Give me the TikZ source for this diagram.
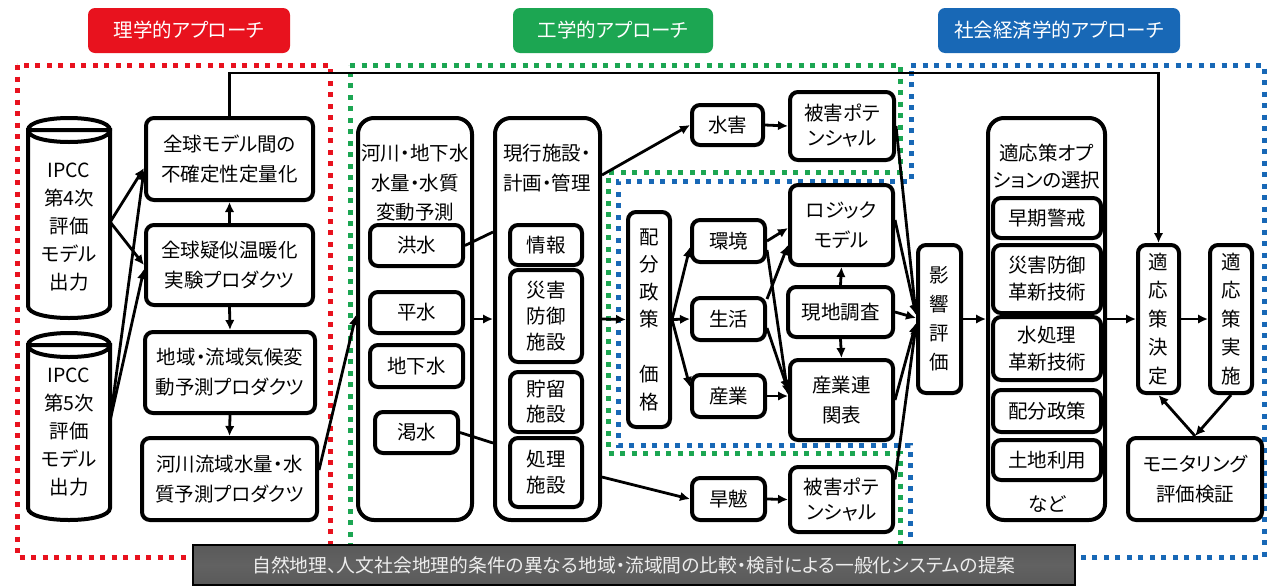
\documentclass[tikz,border=0pt]{standalone}
\usepackage{fontspec}
\setmainfont[RawFeature=+palt]{Noto Sans CJK JP}
\usetikzlibrary{arrows.meta}
\definecolor{rred}{RGB}{232,18,30}
\definecolor{ggreen}{RGB}{28,166,82}
\definecolor{bblue}{RGB}{24,104,182}
\definecolor{bgray}{RGB}{112,112,112}
\begin{document}
\begin{tikzpicture}[x=1pt,y=-1pt,
 font=\fontsize{19.5}{28}\selectfont,
 bs/.style={font=\fontsize{19.5}{#1}\selectfont},
 box/.style={draw, line width=4pt, rounded corners=8pt, fill=white, inner sep=0pt, align=center},
 cont/.style={draw, line width=4pt, rounded corners=16pt, fill=white, inner sep=0pt},
 txt/.style={inner sep=0pt, align=center},
 arr/.style={line width=2.8pt, -{Latex[length=10pt,width=9.5pt]}},
 ln/.style={line width=2.8pt},
 dotreg/.style={line width=5pt, dash pattern=on 5pt off 6.5pt},
 appr/.style={rounded corners=7pt, text=white, minimum height=45pt, inner sep=0pt}]
\useasboundingbox (0,0) rectangle (1268,587);
\fill[white] (0,0) rectangle (1268,587);

% approach labels
\node[appr, fill=rred, minimum width=202pt] (lab1) at (189,30.5) {理学的アプローチ};
\node[appr, fill=ggreen, minimum width=200pt] (lab2) at (613,30.5) {工学的アプローチ};
\node[appr, fill=bblue, minimum width=242pt] (lab3) at (1059,30.5) {社会経済学的アプローチ};

% dotted regions
\draw[dotreg, rred] (17,65) rectangle (330,557);
\draw[dotreg, ggreen] (350,65) -- (900,65) -- (900,172) -- (608,172) -- (608,453) -- (900,453) -- (900,557) -- (350,557) -- cycle;
\draw[dotreg, bblue] (911,65) -- (1264,65) -- (1264,557) -- (910,557) -- (910,445) -- (618,445) -- (618,181) -- (911,181) -- cycle;

% cylinders
\filldraw[fill=white, line width=4pt] (28,130) -- (28,306) .. controls (28,322) and (110,322) .. (110,306) -- (110,130) -- cycle;
\draw[line width=4pt] (28,130) .. controls (28,114) and (110,114) .. (110,130) .. controls (110,146) and (28,146) .. (28,130);
\filldraw[fill=white, line width=4pt] (28,345) -- (28,508) .. controls (28,524) and (110,524) .. (110,508) -- (110,345) -- cycle;
\draw[line width=4pt] (28,345) .. controls (28,329) and (110,329) .. (110,345) .. controls (110,361) and (28,361) .. (28,345);
\node[txt, minimum width=82pt, minimum height=180pt] (cyl1) at (69,227) {IPCC\\第4次\\評価\\モデル\\出力};
\node[txt, minimum width=82pt, minimum height=170pt] (cyl2) at (69,432) {IPCC\\第5次\\評価\\モデル\\出力};

% left column
\node[box, bs=30, minimum width=167pt, minimum height=82pt] (g1box) at (229.5,159) {全球モデル間の\\不確定性定量化};
\node[box, bs=30, minimum width=167pt, minimum height=80pt] (g2box) at (229.5,265) {全球疑似温暖化\\実験プロダクツ};
\node[box, bs=30, minimum width=170pt, minimum height=81pt] (g3box) at (230,372.5) {地域・流域気候変\\動予測プロダクツ};
\node[box, bs=30, minimum width=175pt, minimum height=82pt] (g4box) at (229.5,479) {河川流域水量・水\\質予測プロダクツ};

% river container
\node[cont, minimum width=114pt, minimum height=402pt] (riv) at (415,319) {};
\node[txt, bs=29.5] (rivt) at (415,183) {河川・地下水\\水量・水質\\変動予測};
\node[box, minimum width=93pt, minimum height=41pt] (kozui) at (416.5,245.5) {洪水};
\node[box, minimum width=93pt, minimum height=41pt] (heisui) at (416.5,312.5) {平水};
\node[box, minimum width=93pt, minimum height=42pt] (chika) at (416.5,366) {地下水};
\node[box, minimum width=83pt, minimum height=41pt] (kassui) at (416.5,432.5) {渇水};

% facilities container
\node[cont, minimum width=105pt, minimum height=402pt] (gen) at (547.5,319) {};
\node[txt, bs=30, align=left, anchor=west] (gent) at (503,168) {現行施設・\\計画・管理};
\node[box, minimum width=72pt, minimum height=40pt] (joho) at (546,245) {情報};
\node[box, bs=26, minimum width=72pt, minimum height=92pt] (saigai) at (546,316) {災害\\防御\\施設};
\node[box, bs=25, minimum width=72pt, minimum height=60pt] (chozo) at (546,402) {貯留\\施設};
\node[box, bs=26, minimum width=72pt, minimum height=69pt] (shori) at (546,472.5) {処理\\施設};

% middle
\node[box, minimum width=71pt, minimum height=40pt] (suigai) at (727.5,125) {水害};
\node[box, bs=25, minimum width=104pt, minimum height=68pt] (hig1) at (842,126) {被害ポテ\\ンシャル};
\node[box, bs=27.5, minimum width=42pt, minimum height=215pt] (haibun) at (649,319.5) {配\\分\\政\\策\\[27.5pt]価\\格};
\node[box, minimum width=73pt, minimum height=42pt] (kankyo) at (728.5,241) {環境};
\node[box, minimum width=73pt, minimum height=42pt] (seikatsu) at (728.5,319) {生活};
\node[box, minimum width=73pt, minimum height=42pt] (sangyo) at (728.5,396) {産業};
\node[box, bs=30, minimum width=103pt, minimum height=80pt] (logic) at (841.5,225) {ロジック\\モデル};
\node[box, minimum width=105pt, minimum height=50pt] (genchi) at (840.5,312) {現地調査};
\node[box, bs=30, minimum width=103pt, minimum height=80pt] (renkan) at (841.5,400) {産業連\\関表};
\node[box, minimum width=73pt, minimum height=42pt] (kanbatsu) at (728.5,499) {旱魃};
\node[box, bs=25, minimum width=103pt, minimum height=65pt] (hig2) at (841.5,499.5) {被害ポテ\\ンシャル};
\node[box, bs=29, minimum width=43pt, minimum height=148pt] (eikyo) at (939.5,319) {影\\響\\評\\価};

% options container
\node[cont, minimum width=117pt, minimum height=402pt] (opt) at (1046.5,319) {};
\node[txt, bs=27] (optt) at (1046.5,166.5) {適応策オプ\\ションの選択};
\node[box, minimum width=108pt, minimum height=40pt] (souki) at (1047,218) {早期警戒};
\node[box, bs=27, minimum width=108pt, minimum height=68pt] (saigai2) at (1047,279) {災害防御\\革新技術};
\node[box, bs=27, minimum width=108pt, minimum height=63pt] (suishori) at (1047,348.5) {水処理\\革新技術};
\node[box, minimum width=108pt, minimum height=42pt] (haibun2) at (1047,411) {配分政策};
\node[box, minimum width=108pt, minimum height=40pt] (tochi) at (1047,460) {土地利用};
\node[txt] (nado) at (1047,504) {など};

% right
\node[box, bs=28.5, minimum width=41pt, minimum height=148pt] (kettei) at (1158.5,319) {適\\応\\策\\決\\定};
\node[box, bs=28.5, minimum width=42pt, minimum height=148pt] (jisshi) at (1231,319) {適\\応\\策\\実\\施};
\node[box, bs=30, minimum width=134pt, minimum height=82pt] (monitor) at (1195,479) {モニタリング\\評価検証};

% connectors
\draw[arr] ([yshift=5pt]cyl1.east) -- ([yshift=-9pt]g1box.west);
\draw[arr] ([yshift=5pt]cyl1.east) -- (g2box.west);
\draw[arr] ([yshift=12pt]cyl2.east) -- ([yshift=-11pt]g1box.west);
\draw[arr] ([yshift=12pt]cyl2.east) -- ([yshift=-4pt]g2box.west);
\draw[arr] (g2box.north) -- (g1box.south);
\draw[arr] (g2box.south) -- (g3box.north);
\draw[arr] (g3box.south) -- (g4box.north);
\draw[arr] ([yshift=9pt]g4box.east) -- ([yshift=4pt]riv.west);
\draw[ln] (kozui.east) -- ([yshift=87pt]gen.west);
\draw[arr] (riv.east) -- (gen.west);
\draw[ln] (kassui.east) -- ([yshift=-124pt]gen.west);
\draw[arr] ([yshift=144pt]gen.east) -- (suigai.west);
\draw[arr] (gen.east) -- (haibun.west);
\draw[arr] ([yshift=-158pt]gen.east) -- (kanbatsu.west);
\draw[arr] (suigai.east) -- (hig1.west);
\draw[arr] (kanbatsu.east) -- (hig2.west);
\draw[arr] (haibun.east) -- ([yshift=-6pt]kankyo.west);
\draw[arr] (haibun.east) -- (seikatsu.west);
\draw[arr] (haibun.east) -- ([yshift=9pt]sangyo.west);
\draw[arr] (kankyo.east) -- ([yshift=-3pt]logic.west);
\draw[arr] ([yshift=-9pt]kankyo.east) -- ([yshift=5pt]renkan.west);
\draw[arr] ([yshift=20pt]seikatsu.east) -- ([yshift=-20pt]logic.west);
\draw[arr] ([yshift=-9pt]seikatsu.east) -- ([yshift=10pt]renkan.west);
\draw[arr] (sangyo.east) -- (sangyo.east -| renkan.west);
\draw[arr] (genchi.north) -- (logic.south);
\draw[arr] (genchi.south) -- (renkan.north);
\draw[arr] ([yshift=5pt]logic.east) -- ([yshift=4pt]eikyo.west);
\draw[arr] (genchi.east) -- ([yshift=1pt]eikyo.west);
\draw[arr] (renkan.east) -- ([yshift=-4pt]eikyo.west);
\draw[arr] (hig1.east) -- ([yshift=4pt]eikyo.west);
\draw[arr] ([yshift=20pt]hig2.east) -- ([yshift=-6pt]eikyo.west);
\draw[arr] (eikyo.east) -- (opt.west);
\draw[arr] (opt.east) -- (kettei.west);
\draw[arr] (kettei.east) -- (jisshi.west);
\draw[arr] (jisshi.south) -- (monitor.north);
\draw[arr] (monitor.north) -- (kettei.south);
\draw[arr] (g1box.north) -- ++(0,-43) -| (kettei.north);

% banner
\node[draw=black, line width=2.5pt, top color=bgray!80!black, bottom color=bgray!80!black, middle color=bgray!110, text=white!93!black, minimum width=882pt, minimum height=40pt, inner sep=0pt, font=\fontsize{18.8}{24}\selectfont] (banner) at (634,565) {自然地理、人文社会地理的条件の異なる地域・流域間の比較・検討による一般化システムの提案};
\end{tikzpicture}
\end{document}
